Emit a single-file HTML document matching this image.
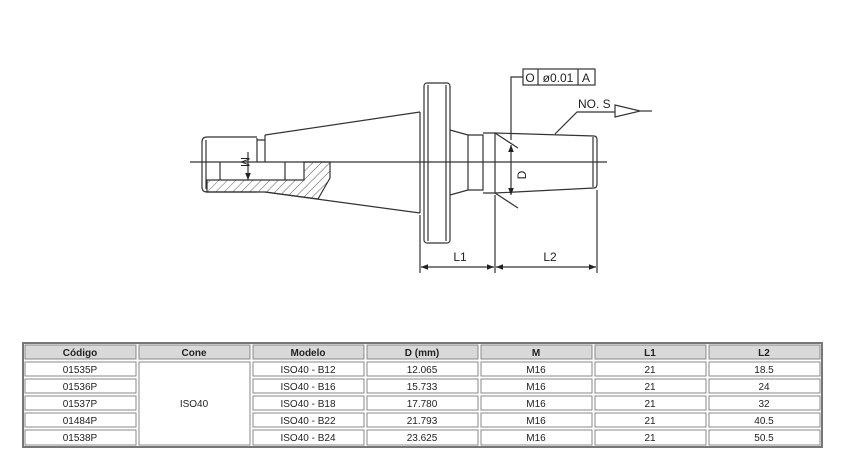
<!DOCTYPE html>
<html><head><meta charset="utf-8"><style>
html,body{margin:0;padding:0;background:#fff;width:844px;height:470px;overflow:hidden}
svg{display:block}
text{font-family:"Liberation Sans",sans-serif;fill:#222}
</style></head><body>
<svg width="844" height="470" viewBox="0 0 844 470" xmlns="http://www.w3.org/2000/svg">
<defs>
<pattern id="h" width="6" height="6" patternUnits="userSpaceOnUse" patternTransform="rotate(45)">
<line x1="0" y1="0" x2="0" y2="6" stroke="#333" stroke-width="0.8"/></pattern>
<marker id="a" viewBox="0 0 10 10" refX="10" refY="5" markerWidth="6" markerHeight="6" orient="auto-start-reverse"><path d="M0,1 L10,5 L0,9z" fill="#222"/></marker>
</defs>
<g stroke="#333" stroke-width="1.2" fill="none">
<line x1="190" y1="162" x2="607" y2="162"/>
<path d="M257,137 L207,137 Q202,137 202,142 L202,187 Q202,192 207,192 L257,192"/>
<line x1="206" y1="140" x2="206" y2="189"/>
<path d="M257,138 L257,162 M265,135 L265,162 M257,140 L265,140"/>
<path d="M207,180 L304,180 L304,162 L330,162 L330,178 L318,199 L265,192 L257,192 L207,192 Z" fill="url(#h)" stroke="#333"/>
<line x1="220" y1="162" x2="220" y2="180"/>
<line x1="285" y1="162" x2="285" y2="180"/>
<line x1="265" y1="135" x2="420" y2="112"/>
<line x1="265" y1="192" x2="420" y2="213"/>
<line x1="420" y1="112" x2="420" y2="213"/>
<rect x="424" y="83" width="26" height="160" rx="3"/>
<line x1="428" y1="85" x2="428" y2="241"/>
<line x1="446" y1="85" x2="446" y2="241"/>
<path d="M450,130 L468,135 L468,190 L450,195"/>
<path d="M468,135 L483,135 L483,190 L468,190"/>
<path d="M483,133 L495,133 L495,193 L483,193"/>
<path d="M495,133 L594,136 Q597,136 597,140 L597,184 Q597,188 594,188 L495,193"/>
<line x1="593" y1="137" x2="593" y2="187"/>
<line x1="511" y1="145" x2="511" y2="195" marker-start="url(#a)" marker-end="url(#a)"/>
<line x1="495" y1="133" x2="518" y2="148"/>
<line x1="495" y1="193" x2="518" y2="208"/>
<path d="M511,140 L511,77 L523,77"/>
<rect x="523" y="69" width="72" height="16"/>
<line x1="538" y1="69" x2="538" y2="85"/>
<line x1="578" y1="69" x2="578" y2="85"/>
<path d="M555,134 L577,112 L615,112"/>
<path d="M615,105 L640,111 L615,117 Z"/>
<line x1="640" y1="111" x2="652" y2="111"/>
<line x1="420" y1="215" x2="420" y2="273"/>
<line x1="495" y1="195" x2="495" y2="273"/>
<line x1="597" y1="190" x2="597" y2="273"/>
<line x1="421" y1="267" x2="494" y2="267" marker-start="url(#a)" marker-end="url(#a)"/>
<line x1="496" y1="267" x2="596" y2="267" marker-start="url(#a)" marker-end="url(#a)"/>
<line x1="248" y1="152" x2="248" y2="180" marker-end="url(#a)"/>
</g>
<text x="241" y="162" font-size="12" transform="rotate(90 241 162)" text-anchor="middle">M</text>
<text x="526" y="175" font-size="12" transform="rotate(-90 526 175)" text-anchor="middle">D</text>
<text x="530" y="82" font-size="12" text-anchor="middle">O</text>
<text x="558" y="82" font-size="12" text-anchor="middle">ø0.01</text>
<text x="586" y="82" font-size="12" text-anchor="middle">A</text>
<text x="578" y="108" font-size="12">NO. S</text>
<text x="460" y="261" font-size="12" text-anchor="middle">L1</text>
<text x="550" y="261" font-size="12" text-anchor="middle">L2</text>
<rect x="23" y="343" width="799" height="104" fill="#fff" stroke="#777" stroke-width="2"/>
<g fill="#d9d9d9" stroke="#888" stroke-width="1">
<rect x="25" y="345" width="111" height="14"/><rect x="139" y="345" width="111" height="14"/>
<rect x="253" y="345" width="111" height="14"/><rect x="367" y="345" width="111" height="14"/>
<rect x="481" y="345" width="111" height="14"/><rect x="595" y="345" width="111" height="14"/>
<rect x="709" y="345" width="111" height="14"/>
</g>
<g fill="none" stroke="#888" stroke-width="1">
<rect x="139" y="362" width="111" height="83"/>
<rect x="25" y="362" width="111" height="14"/><rect x="25" y="379" width="111" height="14"/><rect x="25" y="396" width="111" height="14"/><rect x="25" y="413" width="111" height="14"/><rect x="25" y="430" width="111" height="15"/>
<rect x="253" y="362" width="111" height="14"/><rect x="253" y="379" width="111" height="14"/><rect x="253" y="396" width="111" height="14"/><rect x="253" y="413" width="111" height="14"/><rect x="253" y="430" width="111" height="15"/>
<rect x="367" y="362" width="111" height="14"/><rect x="367" y="379" width="111" height="14"/><rect x="367" y="396" width="111" height="14"/><rect x="367" y="413" width="111" height="14"/><rect x="367" y="430" width="111" height="15"/>
<rect x="481" y="362" width="111" height="14"/><rect x="481" y="379" width="111" height="14"/><rect x="481" y="396" width="111" height="14"/><rect x="481" y="413" width="111" height="14"/><rect x="481" y="430" width="111" height="15"/>
<rect x="595" y="362" width="111" height="14"/><rect x="595" y="379" width="111" height="14"/><rect x="595" y="396" width="111" height="14"/><rect x="595" y="413" width="111" height="14"/><rect x="595" y="430" width="111" height="15"/>
<rect x="709" y="362" width="111" height="14"/><rect x="709" y="379" width="111" height="14"/><rect x="709" y="396" width="111" height="14"/><rect x="709" y="413" width="111" height="14"/><rect x="709" y="430" width="111" height="15"/>
</g>
<g font-size="10" text-anchor="middle">
<text x="80" y="356" font-weight="bold">Código</text><text x="194" y="356" font-weight="bold">Cone</text><text x="308" y="356" font-weight="bold">Modelo</text><text x="422" y="356" font-weight="bold">D (mm)</text><text x="536" y="356" font-weight="bold">M</text><text x="650" y="356" font-weight="bold">L1</text><text x="764" y="356" font-weight="bold">L2</text>
<text x="80" y="373">01535P</text><text x="80" y="390">01536P</text><text x="80" y="407">01537P</text><text x="80" y="424">01484P</text><text x="80" y="441">01538P</text>
<text x="194" y="407">ISO40</text>
<text x="308" y="373">ISO40 - B12</text><text x="308" y="390">ISO40 - B16</text><text x="308" y="407">ISO40 - B18</text><text x="308" y="424">ISO40 - B22</text><text x="308" y="441">ISO40 - B24</text>
<text x="422" y="373">12.065</text><text x="422" y="390">15.733</text><text x="422" y="407">17.780</text><text x="422" y="424">21.793</text><text x="422" y="441">23.625</text>
<text x="536" y="373">M16</text><text x="536" y="390">M16</text><text x="536" y="407">M16</text><text x="536" y="424">M16</text><text x="536" y="441">M16</text>
<text x="650" y="373">21</text><text x="650" y="390">21</text><text x="650" y="407">21</text><text x="650" y="424">21</text><text x="650" y="441">21</text>
<text x="764" y="373">18.5</text><text x="764" y="390">24</text><text x="764" y="407">32</text><text x="764" y="424">40.5</text><text x="764" y="441">50.5</text>
</g>
</svg>
</body></html>
